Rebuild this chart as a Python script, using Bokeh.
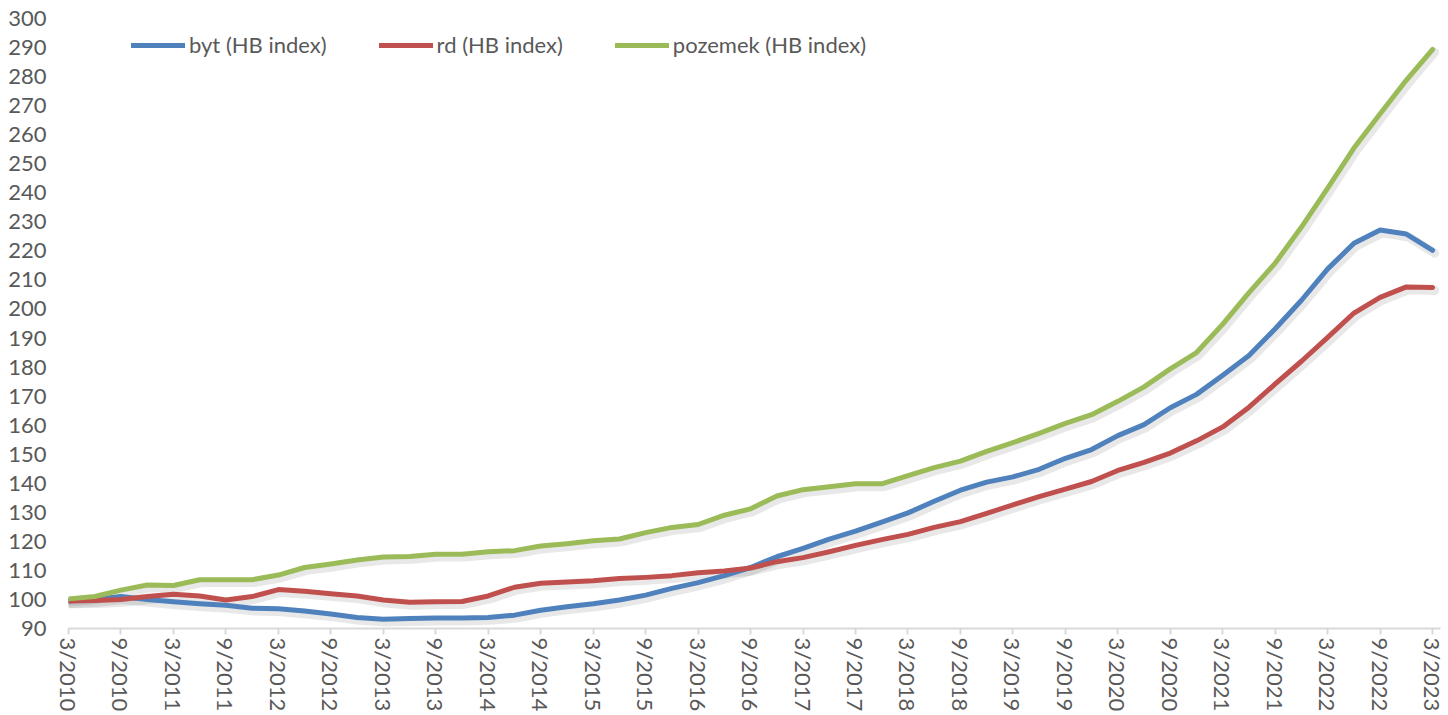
from bokeh.plotting import figure
from bokeh.models import Range1d, FixedTicker, Legend, LegendItem
from bokeh.embed import file_html
from bokeh.resources import INLINE

# quarterly data 3/2010 .. 3/2023
byt = [99.5, 100.0, 101.0, 100.0, 99.2, 98.5, 98.0, 97.0, 96.8, 96.0, 95.0, 93.8, 93.2,
       93.4, 93.6, 93.6, 93.8, 94.6, 96.3, 97.5, 98.5, 99.8, 101.5, 103.8, 105.8, 108.2,
       111.0, 114.7, 117.6, 120.8, 123.5, 126.6, 129.8, 133.8, 137.6, 140.4, 142.2, 144.8,
       148.6, 151.6, 156.4, 160.2, 166.0, 170.6, 177.2, 184.0, 193.2, 203.0, 213.8, 222.6,
       227.2, 225.8, 220.2]
rd = [99.5, 99.6, 100.0, 101.0, 101.8, 101.2, 99.8, 101.0, 103.4, 102.8, 102.0, 101.2, 99.8,
      99.0, 99.2, 99.3, 101.2, 104.2, 105.6, 106.0, 106.4, 107.2, 107.6, 108.2, 109.2, 109.8,
      110.8, 113.0, 114.4, 116.4, 118.6, 120.6, 122.4, 124.8, 126.8, 129.6, 132.6, 135.4,
      138.0, 140.6, 144.4, 147.2, 150.4, 154.6, 159.4, 166.2, 174.2, 182.0, 190.2, 198.6,
      204.0, 207.6, 207.4]
pozemek = [100.2, 101.0, 103.2, 105.0, 104.8, 106.8, 106.8, 106.8, 108.4, 111.0, 112.2, 113.6,
           114.6, 114.8, 115.6, 115.6, 116.4, 116.8, 118.4, 119.2, 120.2, 120.8, 123.0, 124.8,
           125.8, 129.0, 131.2, 135.6, 137.8, 138.8, 139.8, 139.8, 142.6, 145.4, 147.6, 151.0,
           154.0, 157.2, 160.6, 163.6, 168.2, 173.2, 179.4, 185.0, 194.8, 205.6, 215.8, 228.2,
           241.6, 255.4, 267.2, 278.8, 289.4]
tick_labels = ["3/2010", "9/2010", "3/2011", "9/2011", "3/2012", "9/2012", "3/2013", "9/2013",
               "3/2014", "9/2014", "3/2015", "9/2015", "3/2016", "9/2016", "3/2017", "9/2017",
               "3/2018", "9/2018", "3/2019", "9/2019", "3/2020", "9/2020", "3/2021", "9/2021",
               "3/2022", "9/2022", "3/2023"]
series_names = ["byt (HB index)", "rd (HB index)", "pozemek (HB index)"]
colors = ["#4F81BD", "#C0504D", "#9BBB59"]

FONT = "Lato"
TXT = "#595959"

x = list(range(len(byt)))

p = figure(width=1448, height=715, output_backend="svg", toolbar_location=None,
           x_range=Range1d(0, 52.3), y_range=Range1d(90, 300),
           min_border_left=68, min_border_right=8, min_border_top=18, min_border_bottom=87)
p.outline_line_color = None
p.grid.visible = False
p.background_fill_color = "white"

# shadow ranges (screen offset a few px down/right)
p.extra_y_ranges = {"sh": Range1d(91.0, 301.0)}
p.extra_x_ranges = {"shx": Range1d(-0.08, 52.22)}

data = [byt, rd, pozemek]
for ys in data:
    p.line(x, ys, line_color="#000000", line_alpha=0.09, line_width=9,
           line_join="round", line_cap="round", x_range_name="shx", y_range_name="sh")

renderers = []
for ys, c in zip(data, colors):
    r = p.line(x, ys, line_color=c, line_width=5, line_join="round", line_cap="round")
    renderers.append(r)

legend = Legend(items=[LegendItem(label=n, renderers=[r]) for n, r in zip(series_names, renderers)],
                orientation="horizontal", location=(63, 570),
                border_line_color=None, background_fill_alpha=0,
                padding=0, margin=0, spacing=52, glyph_width=54, glyph_height=22,
                label_standoff=4, label_text_font=FONT, label_text_font_size="22px",
                label_text_color=TXT)
p.add_layout(legend)

xa = p.xaxis[0]
xa.ticker = FixedTicker(ticks=[2 * i for i in range(len(tick_labels))])
xa.major_label_overrides = {2 * i: lab for i, lab in enumerate(tick_labels)}
xa.major_label_orientation = "vertical"
xa.axis_line_color = "#D9D9D9"
xa.axis_line_width = 2
xa.major_tick_line_color = "#D9D9D9"
xa.major_tick_line_width = 2
xa.major_tick_out = 6
xa.major_tick_in = 0
xa.minor_tick_line_color = None
xa.major_label_standoff = 3
xa.major_label_text_font = FONT
xa.major_label_text_font_size = "22px"
xa.major_label_text_color = TXT

ya = p.yaxis[0]
ya.ticker = FixedTicker(ticks=list(range(90, 301, 10)))
ya.axis_line_color = None
ya.major_tick_line_color = None
ya.minor_tick_line_color = None
ya.major_tick_out = 0
ya.major_tick_in = 0
ya.major_label_standoff = 22
ya.major_label_text_font = FONT
ya.major_label_text_font_size = "22px"
ya.major_label_text_color = TXT

open("out.html", "w").write(file_html(p, INLINE))
